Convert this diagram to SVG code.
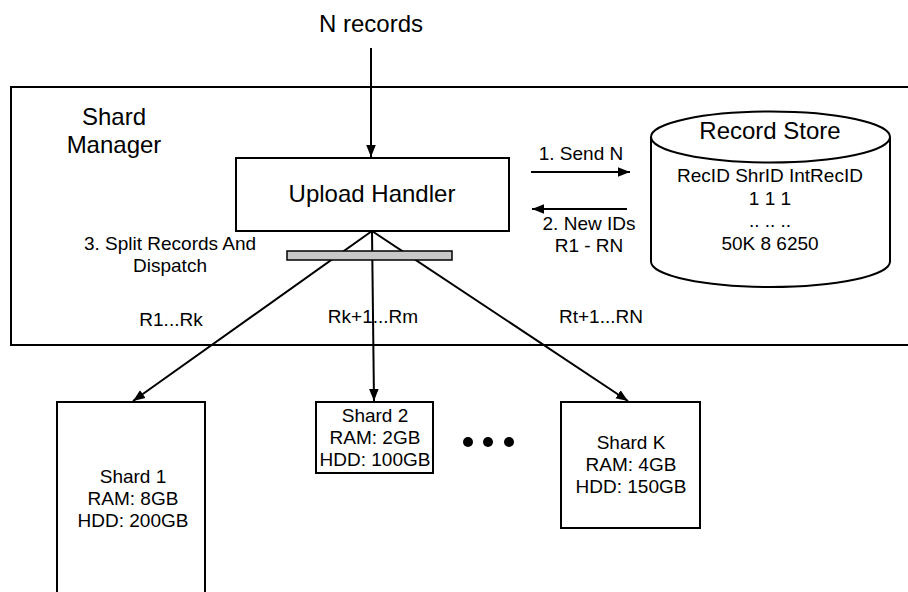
<svg xmlns="http://www.w3.org/2000/svg" width="908" height="592" viewBox="0 0 908 592">
<style>
text{font-family:"Liberation Sans",Arial,sans-serif;fill:#000;text-anchor:middle}
.s{font-size:19px}
.l{font-size:24px}
.box{fill:#fff;stroke:#000;stroke-width:2}
.ln{fill:none;stroke:#000;stroke-width:2}
</style>
<defs>
<marker id="ah" viewBox="0 0 10 10" refX="10" refY="5" markerWidth="6" markerHeight="6" markerUnits="strokeWidth" orient="auto">
<path d="M0,1 L10,5 L0,9 z" fill="#000"/>
</marker>
</defs>
<rect width="908" height="592" fill="#fff"/>
<g id="shard-manager">
<rect x="11" y="87" width="910" height="258" class="box"/>
<text class="l" x="114" y="125">Shard</text>
<text class="l" x="114" y="153">Manager</text>
</g>
<g id="upload-handler">
<rect x="236" y="158" width="273" height="73" class="box"/>
<text class="l" x="372" y="202">Upload Handler</text>
</g>
<g id="record-store">
<path d="M651,137 L651,261.5 A119.5,25.5 0 0 0 890,261.5 L890,137" class="box"/>
<ellipse cx="770.5" cy="137" rx="119.5" ry="25.5" class="box"/>
<text class="l" x="770" y="139">Record Store</text>
<text class="s" x="770" y="182">RecID ShrID IntRecID</text>
<text class="s" x="770" y="205">1 1 1</text>
<text class="s" x="770" y="227">.. .. ..</text>
<text class="s" x="770" y="250">50K 8 6250</text>
</g>
<g id="shard-1">
<rect x="57" y="402" width="148" height="200" class="box"/>
<text class="s" x="133" y="483">Shard 1</text>
<text class="s" x="133" y="505">RAM: 8GB</text>
<text class="s" x="133" y="527">HDD: 200GB</text>
</g>
<g id="shard-2">
<rect x="316" y="402" width="117" height="71" class="box"/>
<text class="s" x="375" y="422">Shard 2</text>
<text class="s" x="375" y="444">RAM: 2GB</text>
<text class="s" x="375" y="466">HDD: 100GB</text>
</g>
<g id="shard-k">
<rect x="561" y="402" width="139" height="126" class="box"/>
<text class="s" x="631" y="449">Shard K</text>
<text class="s" x="631" y="471">RAM: 4GB</text>
<text class="s" x="631" y="493">HDD: 150GB</text>
</g>
<g id="ellipsis">
<circle cx="468" cy="442" r="5"/>
<circle cx="488" cy="442" r="5"/>
<circle cx="509" cy="442" r="5"/>
</g>
<g id="connectors">
<line x1="371" y1="48" x2="371" y2="157" class="ln" marker-end="url(#ah)"/>
<line x1="531" y1="172" x2="630" y2="172" class="ln" marker-end="url(#ah)"/>
<line x1="627" y1="209" x2="532" y2="209" class="ln" marker-end="url(#ah)"/>
<line x1="372" y1="231" x2="133" y2="401" class="ln" marker-end="url(#ah)"/>
<line x1="372" y1="231" x2="374" y2="401" class="ln" marker-end="url(#ah)"/>
<line x1="372" y1="231" x2="628" y2="401" class="ln" marker-end="url(#ah)"/>
<rect x="287" y="251" width="165" height="9" fill="#c8c8c8" stroke="#000" stroke-width="1.5"/>
</g>
<g id="labels">
<text class="l" x="371" y="32">N records</text>
<text class="s" x="581" y="160">1. Send N</text>
<text class="s" x="589" y="230">2. New IDs</text>
<text class="s" x="589" y="252">R1 - RN</text>
<text class="s" x="170" y="250">3. Split Records And</text>
<text class="s" x="170" y="272">Dispatch</text>
<text class="s" x="171" y="326">R1...Rk</text>
<text class="s" x="373" y="323">Rk+1...Rm</text>
<text class="s" x="601" y="323">Rt+1...RN</text>
</g>
</svg>
